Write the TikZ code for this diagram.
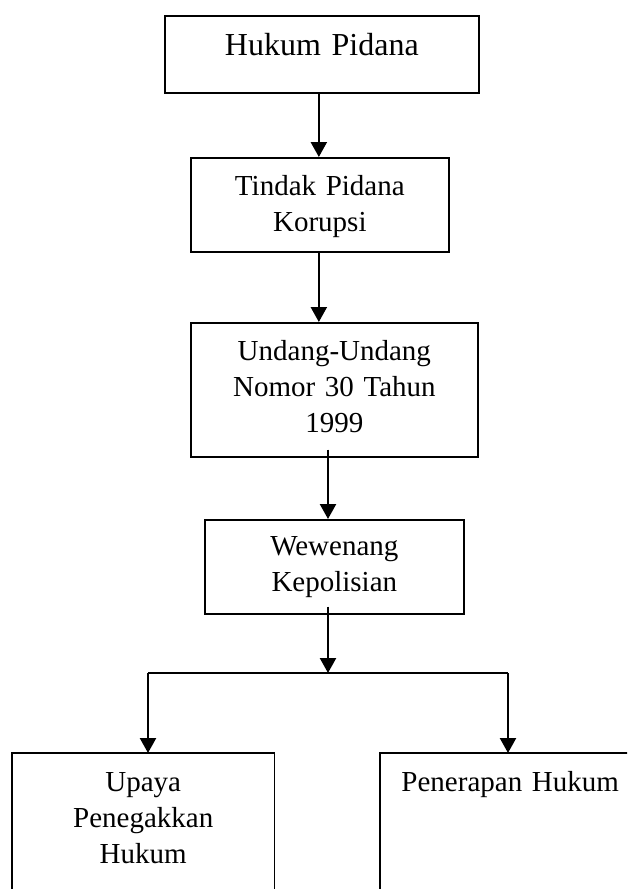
\documentclass[tikz,border=0pt]{standalone}
\usepackage{fontspec}
\setmainfont{Liberation Serif}
\usetikzlibrary{arrows.meta,calc}
\tikzset{
  boxstyle/.style={draw, line width=1.7pt, inner sep=0pt, align=center, anchor=north west,
    font={\fontsize{29pt}{36pt}\selectfont}},
  openbox/.style={draw=none, inner sep=0pt, align=center, anchor=north west,
    font={\fontsize{29pt}{36pt}\selectfont}},
  sideline/.style={line width=1.7pt},
  arrowline/.style={line width=2.3pt, -{Triangle[length=15pt,width=16pt]}},
  joinline/.style={line width=2pt}
}
\begin{document}
\begin{tikzpicture}[x=1pt,y=-1pt]
\useasboundingbox (0,0) rectangle (627,889);
\clip (0,0) rectangle (627,889);
% boxes
\node[boxstyle, text width=314pt, text height=40pt, text depth=37pt,
      font={\fontsize{32pt}{36pt}\selectfont}] (b1) at (164,15) {Hukum Pidana};
\node[boxstyle, text width=258pt, text height=38pt, text depth=56pt] (b2) at (190,157) {Tindak Pidana\\Korupsi};
\node[boxstyle, text width=287pt, text height=38pt, text depth=96pt] (b3) at (190,322) {Undang-Undang\\Nomor 30 Tahun\\1999};
\node[boxstyle, text width=259pt, text height=36pt, text depth=58pt] (b4) at (204,519) {Wewenang\\Kepolisian};
\node[openbox, text width=262pt, text height=38pt, text depth=104pt] (lb) at (12,753) {Upaya\\Penegakkan\\Hukum};
\node[openbox, text width=260pt, text height=38pt, text depth=104pt] (rb) at (380,753) {Penerapan Hukum};
% open bottom boxes
\draw[sideline] (lb.south west) -- (lb.north west) -- (lb.north east) -- (lb.south east);
\draw[sideline] (rb.south west) -- (rb.north west) -- (rb.north east);
% junction coordinates
\coordinate (j) at (328,673);
\coordinate (jl) at (148,673);
\coordinate (jr) at (508,673);
% connectors
\draw[arrowline] ($(b2.north |- b1.south)+(-1,0)$) -- ($(b2.north)+(-1,0)$);
\draw[arrowline] ($(b2.south)+(-1,0)$) -- ($(b2.south |- b3.north)+(-1,0)$);
\draw[arrowline] ($(b3.south -| j)+(0,-8)$) -- (b4.north -| j);
\draw[arrowline] ($(b4.south -| j)+(0,-8)$) -- (j);
\draw[joinline] (jl) -- (jr);
\draw[arrowline] (jl) -- (jl |- lb.north);
\draw[arrowline] (jr) -- (jr |- rb.north);
\end{tikzpicture}
\end{document}
